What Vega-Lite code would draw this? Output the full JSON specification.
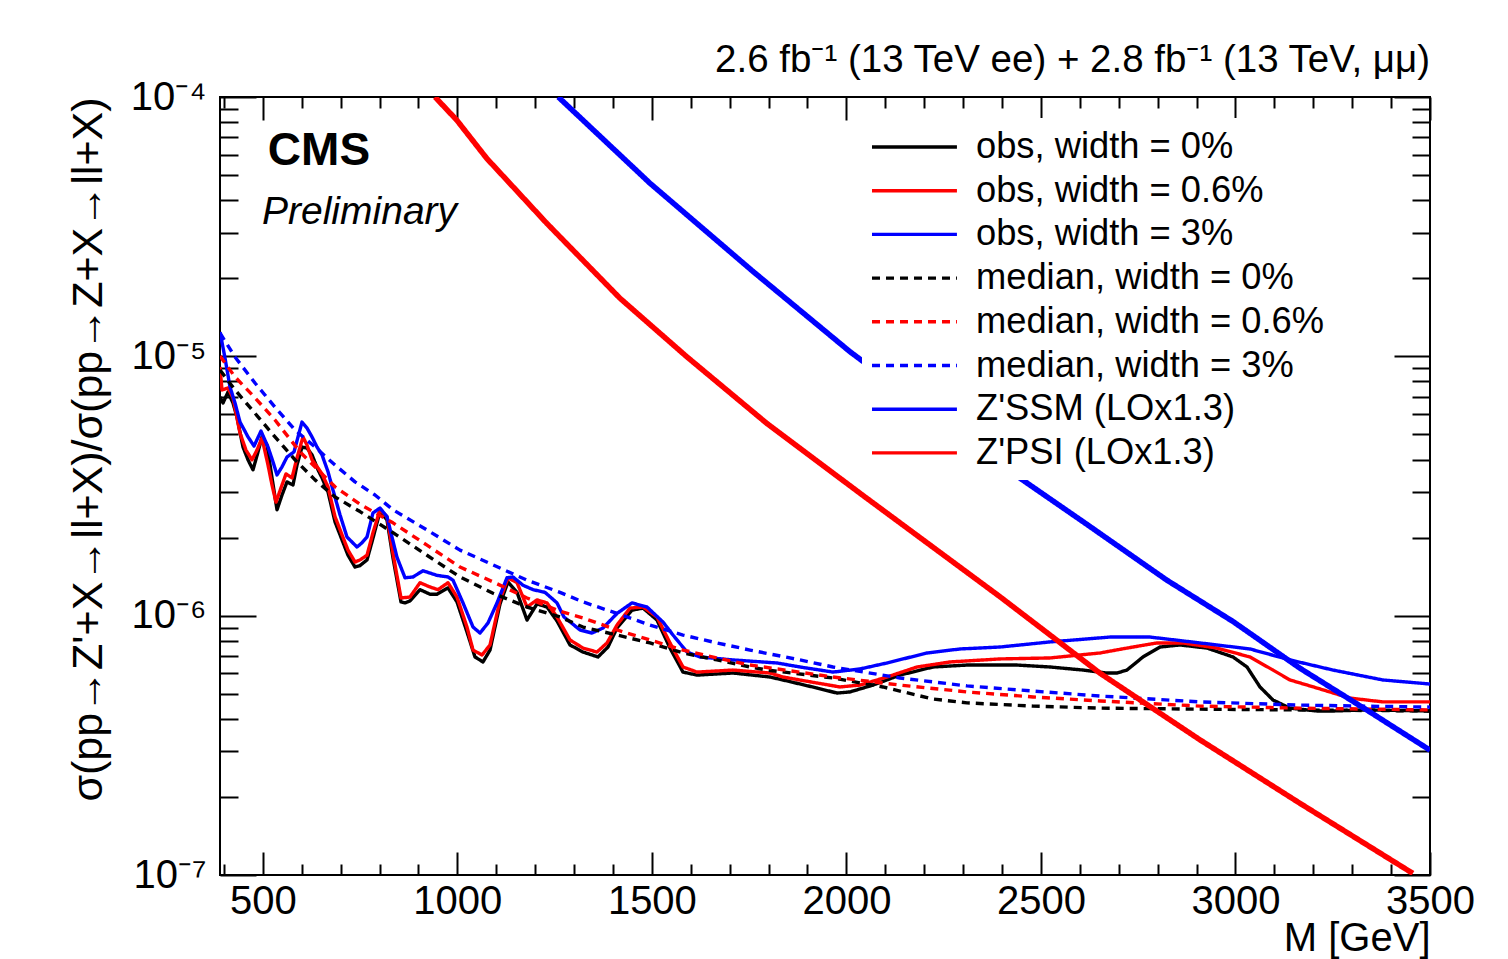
{
"$schema": "https://vega.github.io/schema/vega-lite/v6.json",
"width": 1210, "height": 778,
"autosize": {"type": "none"},
"padding": {"left": 220, "top": 97, "right": 78, "bottom": 84},
"background": "white",
"config": {"view": {"stroke": "black", "strokeWidth": 2}, "font": "Liberation Sans",
 "axis": {"labelFont": "Liberation Sans", "titleFont": "Liberation Sans", "labelColor": "black", "titleColor": "black", "tickColor": "black", "tickWidth": 2, "grid": false, "domain": false, "titleFontWeight": "normal"}},
"title": {"text": "2.6 fb⁻¹ (13 TeV ee) + 2.8 fb⁻¹ (13 TeV, μμ)", "anchor": "end", "frame": "group", "fontSize": 38.5, "font": "Liberation Sans", "fontWeight": "normal", "color": "black", "baseline": "alphabetic", "offset": -33},
"resolve": {"axis": {"x": "independent", "y": "independent"}},
"layer": [
{
"data": {"values": [
{"s":"obs, width = 0%","M":390,"val":6.97e-6},{"s":"obs, width = 0%","M":397.7,"val":6.61e-6},{"s":"obs, width = 0%","M":410.6,"val":7.28e-6},{"s":"obs, width = 0%","M":423.4,"val":6.61e-6},{"s":"obs, width = 0%","M":433.7,"val":5.82e-6},{"s":"obs, width = 0%","M":449.1,"val":4.47e-6},{"s":"obs, width = 0%","M":462,"val":3.99e-6},{"s":"obs, width = 0%","M":474.8,"val":3.65e-6},{"s":"obs, width = 0%","M":487.7,"val":4.28e-6},{"s":"obs, width = 0%","M":497.9,"val":4.89e-6},{"s":"obs, width = 0%","M":510.8,"val":4.55e-6},{"s":"obs, width = 0%","M":523.7,"val":3.4e-6},{"s":"obs, width = 0%","M":536.5,"val":2.56e-6},{"s":"obs, width = 0%","M":549.4,"val":2.92e-6},{"s":"obs, width = 0%","M":562.2,"val":3.28e-6},{"s":"obs, width = 0%","M":577.6,"val":3.19e-6},{"s":"obs, width = 0%","M":587.9,"val":3.81e-6},{"s":"obs, width = 0%","M":600.8,"val":4.47e-6},{"s":"obs, width = 0%","M":613.6,"val":4.43e-6},{"s":"obs, width = 0%","M":626.5,"val":4.17e-6},{"s":"obs, width = 0%","M":641.9,"val":3.65e-6},{"s":"obs, width = 0%","M":652.2,"val":3.4e-6},{"s":"obs, width = 0%","M":667.6,"val":3.0e-6},{"s":"obs, width = 0%","M":685.6,"val":2.3e-6},{"s":"obs, width = 0%","M":703.6,"val":1.96e-6},{"s":"obs, width = 0%","M":719,"val":1.71e-6},{"s":"obs, width = 0%","M":737,"val":1.54e-6},{"s":"obs, width = 0%","M":749.8,"val":1.56e-6},{"s":"obs, width = 0%","M":767.8,"val":1.64e-6},{"s":"obs, width = 0%","M":783.2,"val":1.99e-6},{"s":"obs, width = 0%","M":801.2,"val":2.52e-6},{"s":"obs, width = 0%","M":819.2,"val":2.34e-6},{"s":"obs, width = 0%","M":834.6,"val":1.67e-6},{"s":"obs, width = 0%","M":855.2,"val":1.13e-6},{"s":"obs, width = 0%","M":865.5,"val":1.12e-6},{"s":"obs, width = 0%","M":878.3,"val":1.14e-6},{"s":"obs, width = 0%","M":904,"val":1.26e-6},{"s":"obs, width = 0%","M":929.7,"val":1.21e-6},{"s":"obs, width = 0%","M":947.7,"val":1.21e-6},{"s":"obs, width = 0%","M":976,"val":1.28e-6},{"s":"obs, width = 0%","M":999.1,"val":1.13e-6},{"s":"obs, width = 0%","M":1024.8,"val":8.65e-7},{"s":"obs, width = 0%","M":1045.4,"val":6.93e-7},{"s":"obs, width = 0%","M":1066,"val":6.63e-7},{"s":"obs, width = 0%","M":1084,"val":7.37e-7},{"s":"obs, width = 0%","M":1109.7,"val":1.11e-6},{"s":"obs, width = 0%","M":1130.2,"val":1.35e-6},{"s":"obs, width = 0%","M":1153.4,"val":1.23e-6},{"s":"obs, width = 0%","M":1179.1,"val":9.62e-7},{"s":"obs, width = 0%","M":1204.8,"val":1.11e-6},{"s":"obs, width = 0%","M":1230.5,"val":1.08e-6},{"s":"obs, width = 0%","M":1256.2,"val":9.54e-7},{"s":"obs, width = 0%","M":1289.6,"val":7.71e-7},{"s":"obs, width = 0%","M":1323,"val":7.24e-7},{"s":"obs, width = 0%","M":1361.5,"val":6.93e-7},{"s":"obs, width = 0%","M":1387.2,"val":7.57e-7},{"s":"obs, width = 0%","M":1410.4,"val":8.96e-7},{"s":"obs, width = 0%","M":1448.9,"val":1.05e-6},{"s":"obs, width = 0%","M":1477.2,"val":1.07e-6},{"s":"obs, width = 0%","M":1513.2,"val":9.62e-7},{"s":"obs, width = 0%","M":1546.6,"val":7.5e-7},{"s":"obs, width = 0%","M":1580,"val":6.06e-7},{"s":"obs, width = 0%","M":1616,"val":5.9e-7},{"s":"obs, width = 0%","M":1708.5,"val":6.01e-7},{"s":"obs, width = 0%","M":1803.6,"val":5.8e-7},{"s":"obs, width = 0%","M":1837,"val":5.65e-7},{"s":"obs, width = 0%","M":1924.4,"val":5.26e-7},{"s":"obs, width = 0%","M":1975.9,"val":5.03e-7},{"s":"obs, width = 0%","M":2009.2,"val":5.08e-7},{"s":"obs, width = 0%","M":2068.3,"val":5.4e-7},{"s":"obs, width = 0%","M":2137.7,"val":5.9e-7},{"s":"obs, width = 0%","M":2222.5,"val":6.34e-7},{"s":"obs, width = 0%","M":2309.9,"val":6.45e-7},{"s":"obs, width = 0%","M":2438.5,"val":6.45e-7},{"s":"obs, width = 0%","M":2523.3,"val":6.34e-7},{"s":"obs, width = 0%","M":2608.1,"val":6.17e-7},{"s":"obs, width = 0%","M":2669.8,"val":6.01e-7},{"s":"obs, width = 0%","M":2695.5,"val":6.01e-7},{"s":"obs, width = 0%","M":2721.2,"val":6.17e-7},{"s":"obs, width = 0%","M":2762.3,"val":6.93e-7},{"s":"obs, width = 0%","M":2806,"val":7.57e-7},{"s":"obs, width = 0%","M":2857.4,"val":7.71e-7},{"s":"obs, width = 0%","M":2926.8,"val":7.5e-7},{"s":"obs, width = 0%","M":2993.6,"val":6.93e-7},{"s":"obs, width = 0%","M":3029.6,"val":6.34e-7},{"s":"obs, width = 0%","M":3063,"val":5.31e-7},{"s":"obs, width = 0%","M":3096.4,"val":4.73e-7},{"s":"obs, width = 0%","M":3140.1,"val":4.4e-7},{"s":"obs, width = 0%","M":3209.5,"val":4.29e-7},{"s":"obs, width = 0%","M":3250.6,"val":4.29e-7},{"s":"obs, width = 0%","M":3338,"val":4.33e-7},{"s":"obs, width = 0%","M":3500,"val":4.29e-7},
{"s":"obs, width = 0.6%","M":390,"val":9.1e-6},{"s":"obs, width = 0.6%","M":395.1,"val":7.42e-6},{"s":"obs, width = 0.6%","M":410.6,"val":7.55e-6},{"s":"obs, width = 0.6%","M":423.4,"val":6.92e-6},{"s":"obs, width = 0.6%","M":441.4,"val":5.06e-6},{"s":"obs, width = 0.6%","M":456.8,"val":4.35e-6},{"s":"obs, width = 0.6%","M":472.2,"val":3.99e-6},{"s":"obs, width = 0.6%","M":485.1,"val":4.35e-6},{"s":"obs, width = 0.6%","M":497.9,"val":4.84e-6},{"s":"obs, width = 0.6%","M":513.4,"val":3.81e-6},{"s":"obs, width = 0.6%","M":523.7,"val":3.19e-6},{"s":"obs, width = 0.6%","M":533.9,"val":2.74e-6},{"s":"obs, width = 0.6%","M":546.8,"val":3.11e-6},{"s":"obs, width = 0.6%","M":559.6,"val":3.52e-6},{"s":"obs, width = 0.6%","M":575.1,"val":3.4e-6},{"s":"obs, width = 0.6%","M":587.9,"val":4.06e-6},{"s":"obs, width = 0.6%","M":603.3,"val":4.89e-6},{"s":"obs, width = 0.6%","M":613.6,"val":4.55e-6},{"s":"obs, width = 0.6%","M":626.5,"val":3.99e-6},{"s":"obs, width = 0.6%","M":641.9,"val":3.71e-6},{"s":"obs, width = 0.6%","M":652.2,"val":3.52e-6},{"s":"obs, width = 0.6%","M":667.6,"val":3.14e-6},{"s":"obs, width = 0.6%","M":685.6,"val":2.41e-6},{"s":"obs, width = 0.6%","M":703.6,"val":2.05e-6},{"s":"obs, width = 0.6%","M":719,"val":1.79e-6},{"s":"obs, width = 0.6%","M":737,"val":1.61e-6},{"s":"obs, width = 0.6%","M":749.8,"val":1.64e-6},{"s":"obs, width = 0.6%","M":767.8,"val":1.71e-6},{"s":"obs, width = 0.6%","M":783.2,"val":2.09e-6},{"s":"obs, width = 0.6%","M":801.2,"val":2.56e-6},{"s":"obs, width = 0.6%","M":819.2,"val":2.41e-6},{"s":"obs, width = 0.6%","M":834.6,"val":1.74e-6},{"s":"obs, width = 0.6%","M":855.2,"val":1.17e-6},{"s":"obs, width = 0.6%","M":878.3,"val":1.18e-6},{"s":"obs, width = 0.6%","M":904,"val":1.34e-6},{"s":"obs, width = 0.6%","M":929.7,"val":1.29e-6},{"s":"obs, width = 0.6%","M":950.3,"val":1.26e-6},{"s":"obs, width = 0.6%","M":976,"val":1.34e-6},{"s":"obs, width = 0.6%","M":999.1,"val":1.18e-6},{"s":"obs, width = 0.6%","M":1024.8,"val":9.04e-7},{"s":"obs, width = 0.6%","M":1040.3,"val":7.37e-7},{"s":"obs, width = 0.6%","M":1063.4,"val":7.05e-7},{"s":"obs, width = 0.6%","M":1084,"val":7.71e-7},{"s":"obs, width = 0.6%","M":1109.7,"val":1.15e-6},{"s":"obs, width = 0.6%","M":1130.2,"val":1.4e-6},{"s":"obs, width = 0.6%","M":1153.4,"val":1.34e-6},{"s":"obs, width = 0.6%","M":1179.1,"val":1.08e-6},{"s":"obs, width = 0.6%","M":1204.8,"val":1.15e-6},{"s":"obs, width = 0.6%","M":1230.5,"val":1.12e-6},{"s":"obs, width = 0.6%","M":1256.2,"val":9.88e-7},{"s":"obs, width = 0.6%","M":1289.6,"val":8.06e-7},{"s":"obs, width = 0.6%","M":1323,"val":7.5e-7},{"s":"obs, width = 0.6%","M":1359,"val":7.24e-7},{"s":"obs, width = 0.6%","M":1384.7,"val":7.85e-7},{"s":"obs, width = 0.6%","M":1410.4,"val":9.2e-7},{"s":"obs, width = 0.6%","M":1443.8,"val":1.07e-6},{"s":"obs, width = 0.6%","M":1477.2,"val":1.08e-6},{"s":"obs, width = 0.6%","M":1513.2,"val":9.88e-7},{"s":"obs, width = 0.6%","M":1546.6,"val":7.85e-7},{"s":"obs, width = 0.6%","M":1580,"val":6.34e-7},{"s":"obs, width = 0.6%","M":1616,"val":6.06e-7},{"s":"obs, width = 0.6%","M":1708.5,"val":6.17e-7},{"s":"obs, width = 0.6%","M":1803.6,"val":6.01e-7},{"s":"obs, width = 0.6%","M":1837,"val":5.8e-7},{"s":"obs, width = 0.6%","M":1924.4,"val":5.5e-7},{"s":"obs, width = 0.6%","M":1983.5,"val":5.31e-7},{"s":"obs, width = 0.6%","M":2035,"val":5.4e-7},{"s":"obs, width = 0.6%","M":2104.3,"val":5.8e-7},{"s":"obs, width = 0.6%","M":2181.4,"val":6.34e-7},{"s":"obs, width = 0.6%","M":2266.2,"val":6.63e-7},{"s":"obs, width = 0.6%","M":2394.8,"val":6.81e-7},{"s":"obs, width = 0.6%","M":2523.3,"val":6.87e-7},{"s":"obs, width = 0.6%","M":2651.8,"val":7.18e-7},{"s":"obs, width = 0.6%","M":2721.2,"val":7.5e-7},{"s":"obs, width = 0.6%","M":2798.3,"val":7.85e-7},{"s":"obs, width = 0.6%","M":2865.1,"val":7.85e-7},{"s":"obs, width = 0.6%","M":2952.5,"val":7.5e-7},{"s":"obs, width = 0.6%","M":3037.3,"val":6.93e-7},{"s":"obs, width = 0.6%","M":3096.4,"val":6.17e-7},{"s":"obs, width = 0.6%","M":3140.1,"val":5.65e-7},{"s":"obs, width = 0.6%","M":3209.5,"val":5.26e-7},{"s":"obs, width = 0.6%","M":3294.3,"val":4.81e-7},{"s":"obs, width = 0.6%","M":3379.1,"val":4.65e-7},{"s":"obs, width = 0.6%","M":3500,"val":4.65e-7},
{"s":"obs, width = 3%","M":390,"val":1.241e-5},{"s":"obs, width = 3%","M":402.9,"val":9.85e-6},{"s":"obs, width = 3%","M":415.7,"val":7.62e-6},{"s":"obs, width = 3%","M":428.6,"val":6.61e-6},{"s":"obs, width = 3%","M":441.4,"val":5.58e-6},{"s":"obs, width = 3%","M":462,"val":4.89e-6},{"s":"obs, width = 3%","M":477.4,"val":4.51e-6},{"s":"obs, width = 3%","M":495.4,"val":5.15e-6},{"s":"obs, width = 3%","M":513.4,"val":4.47e-6},{"s":"obs, width = 3%","M":526.2,"val":3.92e-6},{"s":"obs, width = 3%","M":536.5,"val":3.49e-6},{"s":"obs, width = 3%","M":549.4,"val":3.75e-6},{"s":"obs, width = 3%","M":562.2,"val":4.09e-6},{"s":"obs, width = 3%","M":580.2,"val":4.28e-6},{"s":"obs, width = 3%","M":600.8,"val":5.58e-6},{"s":"obs, width = 3%","M":613.6,"val":5.29e-6},{"s":"obs, width = 3%","M":626.5,"val":4.89e-6},{"s":"obs, width = 3%","M":639.3,"val":4.47e-6},{"s":"obs, width = 3%","M":652.2,"val":4.17e-6},{"s":"obs, width = 3%","M":667.6,"val":3.59e-6},{"s":"obs, width = 3%","M":680.4,"val":3.05e-6},{"s":"obs, width = 3%","M":698.4,"val":2.45e-6},{"s":"obs, width = 3%","M":716.4,"val":2.01e-6},{"s":"obs, width = 3%","M":742.1,"val":1.84e-6},{"s":"obs, width = 3%","M":755,"val":1.91e-6},{"s":"obs, width = 3%","M":767.8,"val":2.01e-6},{"s":"obs, width = 3%","M":783.2,"val":2.49e-6},{"s":"obs, width = 3%","M":801.2,"val":2.6e-6},{"s":"obs, width = 3%","M":819.2,"val":2.41e-6},{"s":"obs, width = 3%","M":844.9,"val":1.68e-6},{"s":"obs, width = 3%","M":865.5,"val":1.4e-6},{"s":"obs, width = 3%","M":886,"val":1.41e-6},{"s":"obs, width = 3%","M":911.8,"val":1.49e-6},{"s":"obs, width = 3%","M":947.7,"val":1.43e-6},{"s":"obs, width = 3%","M":976,"val":1.41e-6},{"s":"obs, width = 3%","M":988.9,"val":1.37e-6},{"s":"obs, width = 3%","M":1014.6,"val":1.12e-6},{"s":"obs, width = 3%","M":1040.3,"val":9.04e-7},{"s":"obs, width = 3%","M":1058.3,"val":8.57e-7},{"s":"obs, width = 3%","M":1078.8,"val":9.37e-7},{"s":"obs, width = 3%","M":1102,"val":1.12e-6},{"s":"obs, width = 3%","M":1127.6,"val":1.4e-6},{"s":"obs, width = 3%","M":1143.1,"val":1.41e-6},{"s":"obs, width = 3%","M":1168.8,"val":1.31e-6},{"s":"obs, width = 3%","M":1194.5,"val":1.26e-6},{"s":"obs, width = 3%","M":1225.3,"val":1.23e-6},{"s":"obs, width = 3%","M":1256.2,"val":1.12e-6},{"s":"obs, width = 3%","M":1274.1,"val":9.88e-7},{"s":"obs, width = 3%","M":1315.3,"val":8.81e-7},{"s":"obs, width = 3%","M":1346.1,"val":8.57e-7},{"s":"obs, width = 3%","M":1374.4,"val":8.96e-7},{"s":"obs, width = 3%","M":1410.4,"val":1.02e-6},{"s":"obs, width = 3%","M":1448.9,"val":1.12e-6},{"s":"obs, width = 3%","M":1487.5,"val":1.08e-6},{"s":"obs, width = 3%","M":1528.6,"val":9.45e-7},{"s":"obs, width = 3%","M":1554.3,"val":8.42e-7},{"s":"obs, width = 3%","M":1590.3,"val":7.24e-7},{"s":"obs, width = 3%","M":1623.7,"val":6.93e-7},{"s":"obs, width = 3%","M":1708.5,"val":6.75e-7},{"s":"obs, width = 3%","M":1821.6,"val":6.57e-7},{"s":"obs, width = 3%","M":1880.8,"val":6.34e-7},{"s":"obs, width = 3%","M":1965.6,"val":6.06e-7},{"s":"obs, width = 3%","M":2035,"val":6.23e-7},{"s":"obs, width = 3%","M":2104.3,"val":6.57e-7},{"s":"obs, width = 3%","M":2207.1,"val":7.18e-7},{"s":"obs, width = 3%","M":2291.9,"val":7.44e-7},{"s":"obs, width = 3%","M":2394.8,"val":7.57e-7},{"s":"obs, width = 3%","M":2523.3,"val":7.92e-7},{"s":"obs, width = 3%","M":2677.5,"val":8.27e-7},{"s":"obs, width = 3%","M":2780.3,"val":8.27e-7},{"s":"obs, width = 3%","M":2908.8,"val":7.85e-7},{"s":"obs, width = 3%","M":3037.3,"val":7.44e-7},{"s":"obs, width = 3%","M":3140.1,"val":6.75e-7},{"s":"obs, width = 3%","M":3250.6,"val":6.17e-7},{"s":"obs, width = 3%","M":3379.1,"val":5.65e-7},{"s":"obs, width = 3%","M":3500,"val":5.45e-7},
{"s":"median, width = 0%","M":390,"val":8.86e-6},{"s":"median, width = 0%","M":428.6,"val":7.42e-6},{"s":"median, width = 0%","M":480,"val":6.03e-6},{"s":"median, width = 0%","M":531.4,"val":4.89e-6},{"s":"median, width = 0%","M":582.8,"val":3.99e-6},{"s":"median, width = 0%","M":634.2,"val":3.34e-6},{"s":"median, width = 0%","M":685.6,"val":2.87e-6},{"s":"median, width = 0%","M":749.8,"val":2.52e-6},{"s":"median, width = 0%","M":834.6,"val":2.09e-6},{"s":"median, width = 0%","M":922,"val":1.71e-6},{"s":"median, width = 0%","M":1006.8,"val":1.41e-6},{"s":"median, width = 0%","M":1091.7,"val":1.22e-6},{"s":"median, width = 0%","M":1179.1,"val":1.08e-6},{"s":"median, width = 0%","M":1263.9,"val":9.88e-7},{"s":"median, width = 0%","M":1323,"val":9.04e-7},{"s":"median, width = 0%","M":1410.4,"val":8.42e-7},{"s":"median, width = 0%","M":1495.2,"val":7.85e-7},{"s":"median, width = 0%","M":1580,"val":7.18e-7},{"s":"median, width = 0%","M":1667.4,"val":6.75e-7},{"s":"median, width = 0%","M":1752.2,"val":6.34e-7},{"s":"median, width = 0%","M":1795.9,"val":6.17e-7},{"s":"median, width = 0%","M":1965.6,"val":5.75e-7},{"s":"median, width = 0%","M":2094,"val":5.31e-7},{"s":"median, width = 0%","M":2222.5,"val":4.77e-7},{"s":"median, width = 0%","M":2309.9,"val":4.61e-7},{"s":"median, width = 0%","M":2479.6,"val":4.48e-7},{"s":"median, width = 0%","M":2651.8,"val":4.4e-7},{"s":"median, width = 0%","M":2908.8,"val":4.36e-7},{"s":"median, width = 0%","M":3165.8,"val":4.33e-7},{"s":"median, width = 0%","M":3500,"val":4.29e-7},
{"s":"median, width = 0.6%","M":390,"val":1.003e-5},{"s":"median, width = 0.6%","M":428.6,"val":8.33e-6},{"s":"median, width = 0.6%","M":480,"val":6.92e-6},{"s":"median, width = 0.6%","M":531.4,"val":5.68e-6},{"s":"median, width = 0.6%","M":595.6,"val":4.28e-6},{"s":"median, width = 0.6%","M":685.6,"val":3.14e-6},{"s":"median, width = 0.6%","M":749.8,"val":2.69e-6},{"s":"median, width = 0.6%","M":834.6,"val":2.28e-6},{"s":"median, width = 0.6%","M":922,"val":1.87e-6},{"s":"median, width = 0.6%","M":1006.8,"val":1.54e-6},{"s":"median, width = 0.6%","M":1091.7,"val":1.35e-6},{"s":"median, width = 0.6%","M":1179.1,"val":1.17e-6},{"s":"median, width = 0.6%","M":1263.9,"val":1.04e-6},{"s":"median, width = 0.6%","M":1323,"val":9.8e-7},{"s":"median, width = 0.6%","M":1410.4,"val":8.81e-7},{"s":"median, width = 0.6%","M":1495.2,"val":8.06e-7},{"s":"median, width = 0.6%","M":1580,"val":7.37e-7},{"s":"median, width = 0.6%","M":1667.4,"val":6.87e-7},{"s":"median, width = 0.6%","M":1752.2,"val":6.45e-7},{"s":"median, width = 0.6%","M":1965.6,"val":5.8e-7},{"s":"median, width = 0.6%","M":2137.7,"val":5.4e-7},{"s":"median, width = 0.6%","M":2309.9,"val":5.08e-7},{"s":"median, width = 0.6%","M":2479.6,"val":4.86e-7},{"s":"median, width = 0.6%","M":2651.8,"val":4.69e-7},{"s":"median, width = 0.6%","M":2908.8,"val":4.48e-7},{"s":"median, width = 0.6%","M":3165.8,"val":4.4e-7},{"s":"median, width = 0.6%","M":3500,"val":4.33e-7},
{"s":"median, width = 3%","M":390,"val":1.23e-5},{"s":"median, width = 3%","M":428.6,"val":9.94e-6},{"s":"median, width = 3%","M":480,"val":7.89e-6},{"s":"median, width = 3%","M":531.4,"val":6.37e-6},{"s":"median, width = 3%","M":582.8,"val":5.2e-6},{"s":"median, width = 3%","M":634.2,"val":4.47e-6},{"s":"median, width = 3%","M":685.6,"val":3.81e-6},{"s":"median, width = 3%","M":737,"val":3.28e-6},{"s":"median, width = 3%","M":788.4,"val":2.92e-6},{"s":"median, width = 3%","M":834.6,"val":2.56e-6},{"s":"median, width = 3%","M":922,"val":2.14e-6},{"s":"median, width = 3%","M":1006.8,"val":1.79e-6},{"s":"median, width = 3%","M":1091.7,"val":1.57e-6},{"s":"median, width = 3%","M":1179.1,"val":1.37e-6},{"s":"median, width = 3%","M":1263.9,"val":1.23e-6},{"s":"median, width = 3%","M":1323,"val":1.13e-6},{"s":"median, width = 3%","M":1410.4,"val":1.02e-6},{"s":"median, width = 3%","M":1495.2,"val":9.2e-7},{"s":"median, width = 3%","M":1580,"val":8.42e-7},{"s":"median, width = 3%","M":1667.4,"val":7.85e-7},{"s":"median, width = 3%","M":1752.2,"val":7.37e-7},{"s":"median, width = 3%","M":1880.8,"val":6.75e-7},{"s":"median, width = 3%","M":1965.6,"val":6.34e-7},{"s":"median, width = 3%","M":2137.7,"val":5.75e-7},{"s":"median, width = 3%","M":2309.9,"val":5.36e-7},{"s":"median, width = 3%","M":2479.6,"val":5.12e-7},{"s":"median, width = 3%","M":2651.8,"val":4.9e-7},{"s":"median, width = 3%","M":2908.8,"val":4.65e-7},{"s":"median, width = 3%","M":3165.8,"val":4.52e-7},{"s":"median, width = 3%","M":3500,"val":4.44e-7}
]},
"mark": {"type": "line", "clip": true, "strokeJoin": "round", "strokeCap": "butt", "strokeWidth": 3.4},
"encoding": {
 "x": {"field": "M", "type": "quantitative", "scale": {"domain": [390, 3500], "nice": false, "zero": false},
  "axis": {"orient": "bottom", "values": [500,1000,1500,2000,2500,3000,3500], "ticks": false, "labels": true, "labelFontSize": 40, "labelPadding": 6, "labelFlush": false, "labelOverlap": false, "labelBound": false, "format": "d", "title": "M [GeV]", "titleFontSize": 40, "titleAnchor": "end", "titlePadding": -3}},
 "y": {"field": "val", "type": "quantitative", "scale": {"type": "log", "domain": [1e-7, 1e-4], "nice": false},
  "axis": {"orient": "left", "values": [1e-7, 1e-6, 1e-5, 1e-4], "ticks": false, "labelFontSize": 40, "labelPadding": 14, "labelOverlap": false, "labelBound": false, "labelFlush": false, "labelExpr": "datum.value < 5e-7 ? '10⁻⁷' : datum.value < 5e-6 ? '10⁻⁶' : datum.value < 5e-5 ? '10⁻⁵' : '10⁻⁴'", "title": "σ(pp→Z'+X→ll+X)/σ(pp→Z+X→ll+X)", "titleFontSize": 43, "titleAnchor": "end", "titlePadding": 20}},
 "color": {"field": "s", "type": "nominal",
  "scale": {"domain": ["obs, width = 0%","obs, width = 0.6%","obs, width = 3%","median, width = 0%","median, width = 0.6%","median, width = 3%","Z'SSM (LOx1.3)","Z'PSI (LOx1.3)"], "range": ["#000000","#ff0000","#0000ff","#000000","#ff0000","#0000ff","#0000ff","#ff0000"]},
  "legend": {"title": null, "orient": "none", "legendX": 642, "legendY": 21, "fillColor": "white", "padding": 8, "labelFont": "Liberation Sans", "labelFontSize": 36.3, "labelColor": "black", "labelLimit": 1000, "labelOffset": 64, "symbolType": "M-1,0H3.47", "symbolSize": 1444, "symbolStrokeWidth": 3.4, "rowPadding": 3.7}},
 "strokeDash": {"field": "s", "type": "nominal",
  "scale": {"domain": ["obs, width = 0%","obs, width = 0.6%","obs, width = 3%","median, width = 0%","median, width = 0.6%","median, width = 3%","Z'SSM (LOx1.3)","Z'PSI (LOx1.3)"], "range": [[1,0],[1,0],[1,0],[8,6],[8,6],[8,6],[1,0],[1,0]]},
  "legend": {"title": null, "orient": "none", "legendX": 642, "legendY": 21, "fillColor": "white", "padding": 8, "labelFont": "Liberation Sans", "labelFontSize": 36.3, "labelColor": "black", "labelLimit": 1000, "labelOffset": 64, "symbolType": "M-1,0H3.47", "symbolSize": 1444, "symbolStrokeWidth": 3.4, "rowPadding": 3.7}}
}
},
{
"data": {"values": [
{"s":"Z'SSM (LOx1.3)","M":1259.5,"val":1.0e-4},{"s":"Z'SSM (LOx1.3)","M":1495.2,"val":4.65e-5},{"s":"Z'SSM (LOx1.3)","M":1760.7,"val":2.12e-5},{"s":"Z'SSM (LOx1.3)","M":2009.2,"val":1.042e-5},{"s":"Z'SSM (LOx1.3)","M":2446.2,"val":3.39e-6},{"s":"Z'SSM (LOx1.3)","M":2608.9,"val":2.3e-6},{"s":"Z'SSM (LOx1.3)","M":2823.2,"val":1.372e-6},{"s":"Z'SSM (LOx1.3)","M":2994.4,"val":9.48e-7},{"s":"Z'SSM (LOx1.3)","M":3165.8,"val":6.27e-7},{"s":"Z'SSM (LOx1.3)","M":3337.2,"val":4.33e-7},{"s":"Z'SSM (LOx1.3)","M":3500,"val":3.03e-7},
{"s":"Z'PSI (LOx1.3)","M":942.6,"val":1.0e-4},{"s":"Z'PSI (LOx1.3)","M":998.4,"val":8.15e-5},{"s":"Z'PSI (LOx1.3)","M":1075.5,"val":5.8e-5},{"s":"Z'PSI (LOx1.3)","M":1229.7,"val":3.26e-5},{"s":"Z'PSI (LOx1.3)","M":1418,"val":1.675e-5},{"s":"Z'PSI (LOx1.3)","M":1589.5,"val":9.97e-6},{"s":"Z'PSI (LOx1.3)","M":1795,"val":5.52e-6},{"s":"Z'PSI (LOx1.3)","M":2035,"val":2.965e-6},{"s":"Z'PSI (LOx1.3)","M":2394.8,"val":1.183e-6},{"s":"Z'PSI (LOx1.3)","M":2651.8,"val":6.0e-7},{"s":"Z'PSI (LOx1.3)","M":2908.8,"val":3.32e-7},{"s":"Z'PSI (LOx1.3)","M":3165.8,"val":1.89e-7},{"s":"Z'PSI (LOx1.3)","M":3456,"val":1.014e-7}
]},
"mark": {"type": "line", "clip": true, "strokeJoin": "round", "strokeCap": "butt", "strokeWidth": 5.5},
"encoding": {
 "x": {"field": "M", "type": "quantitative", "scale": {"domain": [390, 3500], "nice": false, "zero": false}, "axis": null},
 "y": {"field": "val", "type": "quantitative", "scale": {"type": "log", "domain": [1e-7, 1e-4], "nice": false}, "axis": null},
 "color": {"field": "s", "type": "nominal",
  "scale": {"domain": ["obs, width = 0%","obs, width = 0.6%","obs, width = 3%","median, width = 0%","median, width = 0.6%","median, width = 3%","Z'SSM (LOx1.3)","Z'PSI (LOx1.3)"], "range": ["#000000","#ff0000","#0000ff","#000000","#ff0000","#0000ff","#0000ff","#ff0000"]},
  "legend": {"title": null, "orient": "none", "legendX": 642, "legendY": 21, "fillColor": "white", "padding": 8, "labelFont": "Liberation Sans", "labelFontSize": 36.3, "labelColor": "black", "labelLimit": 1000, "labelOffset": 64, "symbolType": "M-1,0H3.47", "symbolSize": 1444, "symbolStrokeWidth": 3.4, "rowPadding": 3.7}},
 "strokeDash": {"field": "s", "type": "nominal",
  "scale": {"domain": ["obs, width = 0%","obs, width = 0.6%","obs, width = 3%","median, width = 0%","median, width = 0.6%","median, width = 3%","Z'SSM (LOx1.3)","Z'PSI (LOx1.3)"], "range": [[1,0],[1,0],[1,0],[8,6],[8,6],[8,6],[1,0],[1,0]]},
  "legend": {"title": null, "orient": "none", "legendX": 642, "legendY": 21, "fillColor": "white", "padding": 8, "labelFont": "Liberation Sans", "labelFontSize": 36.3, "labelColor": "black", "labelLimit": 1000, "labelOffset": 64, "symbolType": "M-1,0H3.47", "symbolSize": 1444, "symbolStrokeWidth": 3.4, "rowPadding": 3.7}}
}
},
{
"data": {"values": []},
"mark": "point",
"encoding": {
 "x": {"field": "M", "type": "quantitative", "scale": {"domain": [390, 3500], "nice": false, "zero": false}, "axis": {"orient": "bottom", "values": [500,1000,1500,2000,2500,3000,3500], "labels": false, "tickSize": -23, "title": null}},
 "y": {"field": "val", "type": "quantitative", "scale": {"type": "log", "domain": [1e-7, 1e-4], "nice": false}, "axis": {"orient": "left", "values": [1e-7, 1e-6, 1e-5, 1e-4], "labels": false, "tickSize": -36, "title": null}}
}
},
{
"data": {"values": []},
"mark": "point",
"encoding": {
 "x": {"field": "M", "type": "quantitative", "scale": {"domain": [390, 3500], "nice": false, "zero": false}, "axis": {"orient": "bottom", "values": [400,600,700,800,900,1100,1200,1300,1400,1600,1700,1800,1900,2100,2200,2300,2400,2600,2700,2800,2900,3100,3200,3300,3400], "labels": false, "tickSize": -11, "title": null}},
 "y": {"field": "val", "type": "quantitative", "scale": {"type": "log", "domain": [1e-7, 1e-4], "nice": false}, "axis": {"orient": "left", "values": [2e-7,3e-7,4e-7,5e-7,6e-7,7e-7,8e-7,9e-7,2e-6,3e-6,4e-6,5e-6,6e-6,7e-6,8e-6,9e-6,2e-5,3e-5,4e-5,5e-5,6e-5,7e-5,8e-5,9e-5], "labels": false, "tickSize": -18, "title": null}}
}
},
{
"data": {"values": []},
"mark": "point",
"encoding": {
 "x": {"field": "M", "type": "quantitative", "scale": {"domain": [390, 3500], "nice": false, "zero": false}, "axis": {"orient": "top", "values": [500,1000,1500,2000,2500,3000,3500], "labels": false, "tickSize": -23, "title": null}},
 "y": {"field": "val", "type": "quantitative", "scale": {"type": "log", "domain": [1e-7, 1e-4], "nice": false}, "axis": {"orient": "right", "values": [1e-7, 1e-6, 1e-5, 1e-4], "labels": false, "tickSize": -36, "title": null}}
}
},
{
"data": {"values": []},
"mark": "point",
"encoding": {
 "x": {"field": "M", "type": "quantitative", "scale": {"domain": [390, 3500], "nice": false, "zero": false}, "axis": {"orient": "top", "values": [400,600,700,800,900,1100,1200,1300,1400,1600,1700,1800,1900,2100,2200,2300,2400,2600,2700,2800,2900,3100,3200,3300,3400], "labels": false, "tickSize": -11, "title": null}},
 "y": {"field": "val", "type": "quantitative", "scale": {"type": "log", "domain": [1e-7, 1e-4], "nice": false}, "axis": {"orient": "right", "values": [2e-7,3e-7,4e-7,5e-7,6e-7,7e-7,8e-7,9e-7,2e-6,3e-6,4e-6,5e-6,6e-6,7e-6,8e-6,9e-6,2e-5,3e-5,4e-5,5e-5,6e-5,7e-5,8e-5,9e-5], "labels": false, "tickSize": -18, "title": null}}
}
},
{
"data": {"values": [{"t": "CMS"}]},
"mark": {"type": "text", "font": "Liberation Sans", "fontWeight": "bold", "fontSize": 46, "align": "left", "baseline": "alphabetic", "color": "black"},
"encoding": {
 "x": {"datum": 513, "type": "quantitative", "scale": {"domain": [390, 3500], "nice": false, "zero": false}, "axis": null},
 "y": {"datum": 5.47e-5, "type": "quantitative", "scale": {"type": "log", "domain": [1e-7, 1e-4], "nice": false}, "axis": null},
 "text": {"field": "t"}
}
},
{
"data": {"values": [{"t": "Preliminary"}]},
"mark": {"type": "text", "font": "Liberation Sans", "fontStyle": "italic", "fontSize": 39, "align": "left", "baseline": "alphabetic", "color": "black"},
"encoding": {
 "x": {"datum": 498, "type": "quantitative", "scale": {"domain": [390, 3500], "nice": false, "zero": false}, "axis": null},
 "y": {"datum": 3.24e-5, "type": "quantitative", "scale": {"type": "log", "domain": [1e-7, 1e-4], "nice": false}, "axis": null},
 "text": {"field": "t"}
}
}
]
}
